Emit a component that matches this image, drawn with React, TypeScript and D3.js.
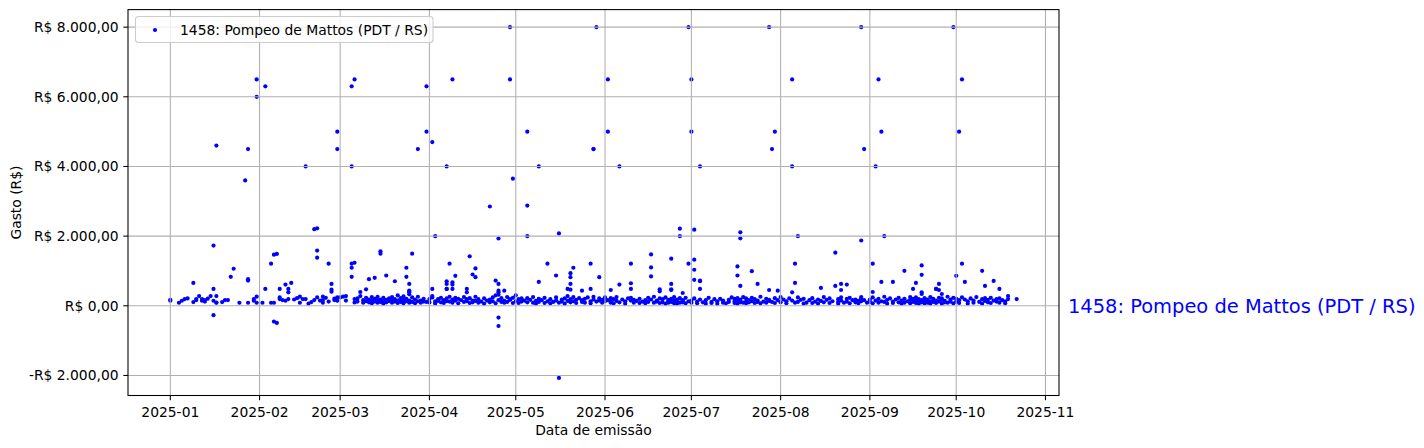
import React from "react";
import * as d3 from "d3";

const seriesName = "1458: Pompeo de Mattos (PDT / RS)";
const yearNum = 2025;
const xTickLabels = ["2025-01","2025-02","2025-03","2025-04","2025-05","2025-06","2025-07","2025-08","2025-09","2025-10","2025-11"];
const yTickValues = [-2000, 0, 2000, 4000, 6000, 8000];

const janDay = [1,1,4,5,6,7,9,9,10,10,11,12,12,13,13,14,15,16,16,16,16,17,17,17,17,19,20,21,22,23,25,27,28,28,28,28,30,30,31,31,31,31];
const janVal = [174,145,87,145,193,210,657,106,164,193,280,193,145,164,120,203,280,145,483,1729,-270,280,4600,87,95,106,164,164,831,1063,87,3600,87,763,725,4500,145,193,261,87,6500,6000];

const febDay = [2,3,3,5,5,6,6,6,7,7,8,8,8,9,10,10,11,11,11,12,13,14,15,15,16,17,17,18,19,20,20,21,21,21,21,22,23,23,23,24,25,25,26,26,26,27,27,28,28,28,28];
const febVal = [87,6300,483,87,1208,87,1468,-454,1488,-493,193,483,241,164,145,609,483,386,193,657,180,220,261,87,193,193,4000,60,106,164,2200,2225,241,1584,1381,150,261,164,87,230,1208,120,628,406,464,203,164,145,5000,4500,240];

const marDay = [1,2,3,3,5,5,5,5,5,6,6,6,6,7,7,8,8,9,9,10,10,10,11,11,11,12,12,12,13,13,13,14,14,14,15,15,15,15,16,16,16,17,17,17,18,18,19,19,19,20,20,20,21,21,21,22,22,23,23,23,24,24,24,24,25,25,25,25,25,25,25,26,26,26,27,27,28,28,28,29,29,30,30,31,31,31];
const marVal = [241,261,280,150,6300,4000,1208,1092,831,6500,1236,97,193,120,210,280,396,160,90,130,230,473,100,180,763,140,250,70,802,120,200,160,90,260,1565,1497,110,180,230,140,60,870,170,100,210,130,90,250,160,705,120,190,300,150,80,220,110,160,270,70,1092,831,130,200,628,435,406,386,90,150,330,1497,240,110,180,70,4500,260,130,150,90,200,120,6300,5000,110];

const aprDay = [1,1,2,2,2,2,3,3,3,4,4,5,5,6,6,7,7,7,7,7,7,7,8,8,8,9,9,9,9,9,9,10,10,10,11,11,12,13,13,14,14,14,14,15,15,15,16,16,16,17,17,17,17,18,18,19,20,20,21,22,22,22,23,23,24,24,24,25,25,25,25,25,25,25,25,26,26,27,27,27,28,28,29,29,29,29,30,30,30];
const aprVal = [97,193,280,241,483,4700,126,68,2000,190,140,100,230,160,80,4000,705,628,483,483,210,130,1208,120,260,6500,676,609,483,180,90,860,230,150,70,200,160,110,250,483,386,190,130,1420,80,220,898,150,100,1072,821,260,140,90,190,120,210,60,150,100,180,2850,240,130,725,300,70,628,1932,-338,-580,435,386,319,160,110,220,90,435,140,250,110,190,8000,6500,170,80,3650,230,120];

const mayDay = [1,1,2,2,3,3,4,5,5,5,5,5,6,7,7,8,8,9,9,9,9,10,11,11,12,12,13,13,14,15,15,15,16,16,16,17,17,18,18,19,19,19,20,20,20,20,20,20,21,21,21,22,22,23,24,24,24,25,25,26,27,27,27,27,28,28,28,28,29,29,30,30,30,31,31];
const mayVal = [130,300,190,80,210,120,150,5000,2878,2000,100,220,170,90,250,140,60,4000,686,200,110,160,80,230,1208,130,190,70,110,870,240,150,2077,-2072,90,180,120,60,210,483,140,280,937,821,628,464,100,190,1092,250,130,170,80,220,435,110,160,90,200,240,1208,483,130,70,4500,4500,180,260,8000,120,821,210,150,90,170];

const junDay = [1,1,1,2,2,2,3,3,3,3,4,4,5,5,6,6,6,7,8,8,9,10,10,10,10,10,11,11,12,13,13,14,15,15,16,16,17,17,17,17,18,18,19,19,20,20,20,20,21,21,22,22,23,23,23,24,24,24,24,24,24,25,25,25,26,26,26,27,27,27,27,28,28,28,28,29,29,30,30,30];
const junVal = [240,130,200,6500,5000,160,454,90,110,220,190,70,250,140,4000,609,100,180,130,60,210,483,1208,647,150,230,90,170,140,200,80,120,70,160,230,110,1476,1102,843,180,90,260,150,120,415,473,210,80,100,190,240,60,130,170,90,1352,628,454,473,200,110,70,250,150,180,120,60,2215,2000,220,90,367,140,160,100,230,70,8000,1208,130];

const julDay = [1,1,1,1,2,2,2,2,2,3,3,4,4,4,4,4,5,6,6,7,8,8,9,10,10,11,12,12,13,14,14,15,16,16,16,17,17,17,17,17,18,18,18,18,18,18,19,19,20,20,20,21,21,22,22,22,23,23,24,24,24,25,25,26,27,27,28,28,28,28,29,29,30,30,30,31,31];
const julVal = [6500,5000,150,90,2186,1323,1034,744,210,120,70,4000,705,483,725,180,100,160,60,230,110,80,190,130,60,200,90,150,70,170,110,240,130,80,200,1130,870,160,60,220,570,2109,1937,100,180,140,250,90,120,210,70,160,100,995,230,130,80,190,628,150,110,260,70,120,200,90,454,8000,140,170,4500,110,5000,220,80,160,435];

const augDay = [1,1,2,3,3,4,5,5,5,5,6,6,6,7,7,7,8,9,9,10,11,12,12,13,14,14,15,15,16,16,17,18,18,19,20,20,21,21,21,22,22,22,22,23,24,24,24,25,25,26,27,27,28,28,29,29,29,29,29,30,30,31];
const augVal = [100,250,180,130,70,210,386,6500,4000,150,1208,657,90,240,2000,110,170,60,200,90,160,220,80,120,180,60,512,140,250,100,170,80,210,130,1526,570,190,60,110,628,454,240,150,90,200,609,120,70,230,160,100,180,140,70,210,1874,130,250,8000,4500,160,90];

const sepDay = [1,1,2,2,2,2,3,3,4,4,4,5,5,5,6,6,6,7,7,8,9,9,9,10,11,11,12,12,13,13,13,14,15,15,15,16,16,16,17,17,17,17,18,18,18,19,19,19,19,19,19,20,20,20,21,21,22,22,22,23,23,24,24,24,24,25,25,25,25,26,26,26,26,27,27,28,28,29,29,30,30,30];
const sepVal = [110,180,1208,396,240,70,4000,150,6500,90,200,5000,686,130,2000,260,110,170,60,210,686,120,80,180,100,230,150,60,1005,200,90,130,250,70,170,483,110,200,657,80,150,240,120,60,190,1159,889,386,338,160,100,220,70,140,90,180,130,250,60,200,110,483,483,150,80,230,628,454,120,170,338,60,210,100,140,260,90,180,120,230,8000,70];

const octDay = [1,1,1,2,2,2,3,3,3,4,4,5,5,6,7,7,8,9,10,10,10,11,11,11,12,12,13,13,14,14,15,15,16,16,16,17,18,18,19,19,22];
const octVal = [860,120,200,5000,80,160,6500,1208,240,686,180,130,60,210,150,90,250,110,1005,60,190,570,140,220,100,170,230,80,715,150,190,120,483,90,210,160,130,70,280,193,193];

const monthDays = [janDay, febDay, marDay, aprDay, mayDay, junDay, julDay, augDay, sepDay, octDay];
const monthVals = [janVal, febVal, marVal, aprVal, mayVal, junVal, julVal, augVal, sepVal, octVal];

const W = 1424, H = 448;
const left = 128, right = 1059, top = 9.6, bottom = 395.5;
const FONT = "DejaVu Sans";
const FS = 13.89;

function fmtBRL(v: number) {
  const abs = Math.abs(v);
  const s = d3.format(",.2f")(abs).replace(/,/g, "#").replace(/\./g, ",").replace(/#/g, ".");
  return (v < 0 ? "-" : "") + "R$ " + s;
}

export default function App() {
  const points: { date: Date; v: number }[] = [];
  monthDays.forEach((days, mi) => {
    days.forEach((d, i) => points.push({ date: new Date(yearNum, mi, d), v: monthVals[mi][i] }));
  });

  const [minD, maxD] = d3.extent(points, (p) => p.date.getTime()) as [number, number];
  const spanD = maxD - minD;
  const x = d3.scaleTime().domain([new Date(minD - 0.05 * spanD), new Date(maxD + 0.05 * spanD)]).range([left, right]);
  const [minV, maxV] = d3.extent(points, (p) => p.v) as [number, number];
  const spanV = maxV - minV;
  const y = d3.scaleLinear().domain([minV - 0.05 * spanV, maxV + 0.05 * spanV]).range([bottom, top]);

  const xTicks = xTickLabels.map((s) => {
    const [yy, mm] = s.split("-").map(Number);
    return { date: new Date(yy, mm - 1, 1), label: s };
  });

  const gridColor = "#b0b0b0";

  return (
    <svg width={W} height={H} style={{ position: "absolute", left: 0, top: 0, background: "#fff" }} fontFamily={FONT}>
      <rect x={0} y={0} width={W} height={H} fill="#fff" />
      <g>
        {points.map((p, i) => (
          <circle key={i} cx={x(p.date)} cy={y(p.v)} r={2.1} fill="#0000ff" />
        ))}
      </g>
      <g stroke={gridColor} strokeWidth={1.07}>
        {xTicks.map((t, i) => (
          <line key={"gx" + i} x1={x(t.date)} x2={x(t.date)} y1={top} y2={bottom} />
        ))}
        {yTickValues.map((v, i) => (
          <line key={"gy" + i} x1={left} x2={right} y1={y(v)} y2={y(v)} />
        ))}
      </g>
      <rect x={left} y={top} width={right - left} height={bottom - top} fill="none" stroke="#000" strokeWidth={1.07} />
      <g fontSize={FS} fill="#000">
        {xTicks.map((t, i) => (
          <g key={"xt" + i}>
            <line x1={x(t.date)} x2={x(t.date)} y1={bottom} y2={bottom + 4.7} stroke="#000" strokeWidth={1.07} />
            <text x={x(t.date)} y={bottom + 21.5} textAnchor="middle">{t.label}</text>
          </g>
        ))}
        {yTickValues.map((v, i) => (
          <g key={"yt" + i}>
            <line x1={left} x2={left - 4.7} y1={y(v)} y2={y(v)} stroke="#000" strokeWidth={1.07} />
            <text x={left - 9.4} y={y(v)} dy="0.36em" textAnchor="end">{fmtBRL(v)}</text>
          </g>
        ))}
      </g>
      <text x={(left + right) / 2} y={435} fontSize={FS} textAnchor="middle">Data de emissão</text>
      <text transform={`translate(21,${(top + bottom) / 2}) rotate(-90)`} fontSize={FS} textAnchor="middle">Gasto (R$)</text>
      <g>
        <rect x={135.5} y={16.5} width={297.5} height={26} rx={3} fill="#fff" fillOpacity={0.8} stroke="#cccccc" strokeWidth={1.07} />
        <circle cx={155} cy={30} r={2.1} fill="#0000ff" />
        <text x={180} y={34.5} fontSize={FS} fill="#000">{seriesName}</text>
      </g>
      <text x={1068} y={y(0)} dy="0.36em" fontSize={19.44} fill="#0000ff">{seriesName}</text>
    </svg>
  );
}
